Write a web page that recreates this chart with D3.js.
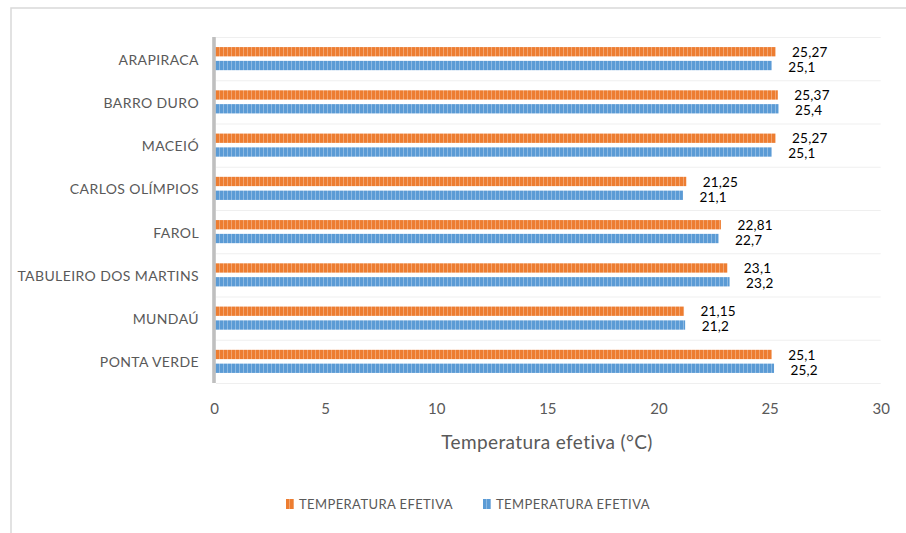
<!DOCTYPE html>
<html>
<head>
<meta charset="utf-8">
<script src="https://cdn.jsdelivr.net/npm/d3@7"></script>
<style>
  html, body { margin: 0; padding: 0; background: #fff; }
  svg { display: block; font-family: Lato, "Open Sans", sans-serif; }
</style>
</head>
<body>
<svg id="chart" width="906" height="533"></svg>
<script>
// Estações e temperaturas efetivas (°C)
const categories = ["ARAPIRACA", "BARRO DURO", "MACEIÓ", "CARLOS OLÍMPIOS", "FAROL",
  "TABULEIRO DOS MARTINS", "MUNDAÚ", "PONTA VERDE"];
const seriesA = [25.27, 25.37, 25.27, 21.25, 22.81, 23.1, 21.15, 25.1];
const seriesB = [25.1, 25.4, 25.1, 21.1, 22.7, 23.2, 21.2, 25.2];
const seriesNames = ["TEMPERATURA EFETIVA", "TEMPERATURA EFETIVA"];
const xTicks = [0, 5, 10, 15, 20, 25, 30];
const axisTitle = "Temperatura efetiva (°C)";

const colors = ["#ED7D31", "#5B9BD5"];
const textColor = "#595959";

const svg = d3.select("#chart");

// Vertical stripe fills for the bars
const defs = svg.append("defs");
colors.forEach((c, i) => {
  const p = defs.append("pattern")
    .attr("id", "stripe" + i)
    .attr("patternUnits", "userSpaceOnUse")
    .attr("width", 4).attr("height", 10);
  p.append("rect").attr("width", 4).attr("height", 10).attr("fill", c);
  p.append("rect").attr("x", 3).attr("width", 1).attr("height", 10)
    .attr("fill", "#fff").attr("opacity", 0.3);
});

// Outer frame
svg.append("path")
  .attr("d", "M11,533 L11,8 L906,8")
  .attr("fill", "none").attr("stroke", "#d9d9d9").attr("stroke-width", 1.5);

const x = d3.scaleLinear().domain([0, 30]).range([214, 880.7]);
const y = d3.scaleBand().domain(categories).range([37, 383]);

// Category separators
const bounds = categories.map(c => y(c)).concat([383]);
svg.append("g").selectAll("line").data(bounds).join("line")
  .attr("x1", 216).attr("x2", 880.7)
  .attr("y1", d => d + 0.5).attr("y2", d => d + 0.5)
  .attr("stroke", "#efefef").attr("stroke-width", 1);

const barH = 9.3, gap = 4.5;
const series = [seriesA, seriesB];
const fmt = v => String(v).replace(".", ",");

series.forEach((vals, si) => {
  const g = svg.append("g");
  const yOff = d => y(d) + y.bandwidth() / 2 - (barH + gap / 2) + si * (barH + gap);
  g.selectAll("rect").data(categories).join("rect")
    .attr("x", x(0))
    .attr("y", d => yOff(d))
    .attr("width", (d, i) => x(vals[i]) - x(0))
    .attr("height", barH)
    .attr("fill", `url(#stripe${si})`);
  g.selectAll("text").data(categories).join("text")
    .attr("x", (d, i) => x(vals[i]) + 16.5)
    .attr("y", d => yOff(d) + barH / 2 + (si === 0 ? 0.3 : 1.6))
    .attr("dy", "0.35em")
    .attr("font-size", 13.5)
    .attr("letter-spacing", 0.2)
    .attr("fill", "#000")
    .text((d, i) => fmt(vals[i]));
});

// Category labels
svg.append("g").selectAll("text").data(categories).join("text")
  .attr("x", 199)
  .attr("y", d => y(d) + y.bandwidth() / 2 + 1)
  .attr("dy", "0.35em")
  .attr("text-anchor", "end")
  .attr("font-size", 14)
  .attr("letter-spacing", 0.4)
  .attr("fill", textColor)
  .text(d => d);

// Vertical category axis line
svg.append("line")
  .attr("x1", x(0)).attr("x2", x(0))
  .attr("y1", 37).attr("y2", 383)
  .attr("stroke", "#bfbfbf").attr("stroke-width", 3.6);

// Value axis tick labels (no line)
const xAxis = d3.axisBottom(x).tickValues(xTicks).tickSize(0).tickPadding(0)
  .tickFormat(d3.format("d"));
const gx = svg.append("g").attr("transform", "translate(0,403)").call(xAxis);
gx.select(".domain").remove();
gx.selectAll("text").attr("font-size", 15).attr("fill", textColor)
  .attr("font-family", "Lato, 'Open Sans', sans-serif");

// Axis title
svg.append("text")
  .attr("x", 547).attr("y", 442).attr("dy", "0.35em")
  .attr("text-anchor", "middle")
  .attr("font-size", 19).attr("letter-spacing", 0.4)
  .attr("fill", textColor)
  .text(axisTitle);

// Legend
const legendX = [286, 483];
const lg = svg.append("g").selectAll("g").data(seriesNames).join("g")
  .attr("transform", (d, i) => `translate(${legendX[i]},504)`);
lg.append("rect").attr("x", 0).attr("y", -5).attr("width", 8).attr("height", 10)
  .attr("fill", (d, i) => `url(#stripe${i})`);
lg.append("text").attr("x", 13).attr("dy", "0.35em")
  .attr("font-size", 13).attr("letter-spacing", 0.4)
  .attr("fill", textColor)
  .text(d => d);
</script>
</body>
</html>
